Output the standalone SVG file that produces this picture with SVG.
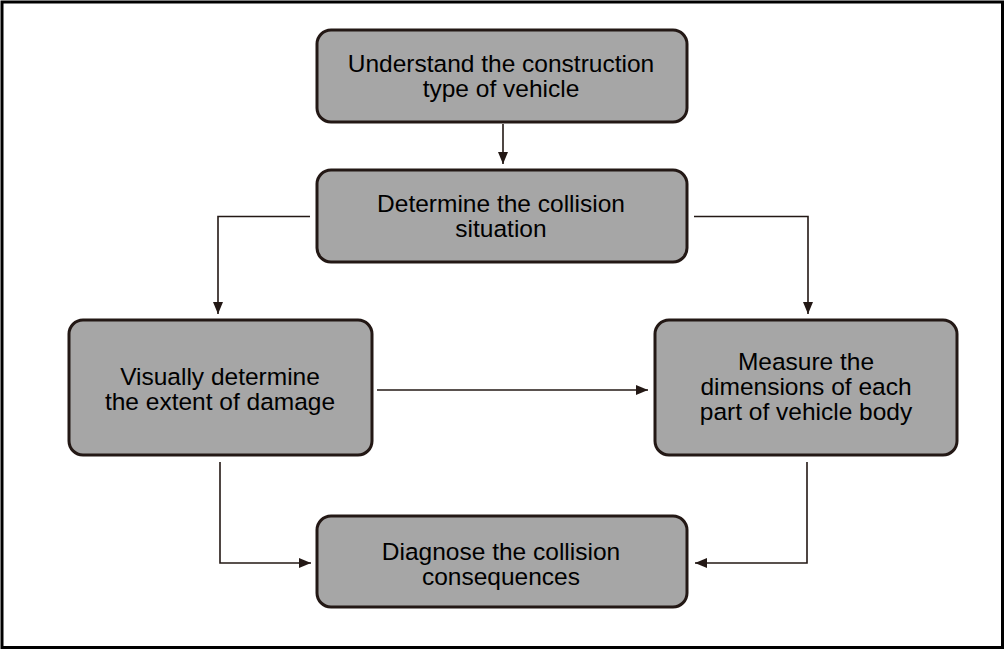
<svg xmlns="http://www.w3.org/2000/svg" width="1005" height="650" viewBox="0 0 1005 650">
<defs>
<marker id="ah" markerWidth="12" markerHeight="10" refX="12" refY="5" orient="auto" markerUnits="userSpaceOnUse">
<path d="M0,0 L12,5 L0,10 Z" fill="#231815"/>
</marker>
<style>
.box{fill:#a6a6a6;stroke:#231815;stroke-width:3}
.lbl{font-family:"Liberation Sans",Arial,Helvetica,sans-serif;font-size:24.5px;fill:#000;text-anchor:middle}
.con{fill:none;stroke:#231815;stroke-width:1.6;marker-end:url(#ah)}
</style>
</defs>
<rect x="0" y="0" width="1005" height="650" fill="#fff"/>
<rect x="2" y="2" width="1000.5" height="645.5" fill="none" stroke="#000" stroke-width="3"/>
<g id="n1"><rect class="box" x="317" y="30" width="370" height="92" rx="14"/>
<text class="lbl" x="501" y="71.5">Understand the construction</text>
<text class="lbl" x="501" y="96.5">type of vehicle</text></g>
<g id="n2"><rect class="box" x="317" y="170" width="370" height="92" rx="14"/>
<text class="lbl" x="501" y="211.5">Determine the collision</text>
<text class="lbl" x="501" y="236.5">situation</text></g>
<g id="n3"><rect class="box" x="69" y="320" width="303" height="135" rx="14"/>
<text class="lbl" x="220" y="384.5">Visually determine</text>
<text class="lbl" x="220" y="409.5">the extent of damage</text></g>
<g id="n4"><rect class="box" x="655" y="320" width="302" height="135" rx="14"/>
<text class="lbl" x="806" y="369.5">Measure the</text>
<text class="lbl" x="806" y="394.5">dimensions of each</text>
<text class="lbl" x="806" y="419.5">part of vehicle body</text></g>
<g id="n5"><rect class="box" x="317" y="516" width="370" height="91" rx="14"/>
<text class="lbl" x="501" y="559.5">Diagnose the collision</text>
<text class="lbl" x="501" y="584.5">consequences</text></g>
<g id="connectors">
<path class="con" d="M503,124 L503,164"/>
<path class="con" d="M310,216.5 L218,216.5 L218,314"/>
<path class="con" d="M694,216.5 L808,216.5 L808,314"/>
<path class="con" d="M377,390 L648,390"/>
<path class="con" d="M220,462 L220,563 L311,563"/>
<path class="con" d="M807,462 L807,563 L695,563"/>
</g>
</svg>
